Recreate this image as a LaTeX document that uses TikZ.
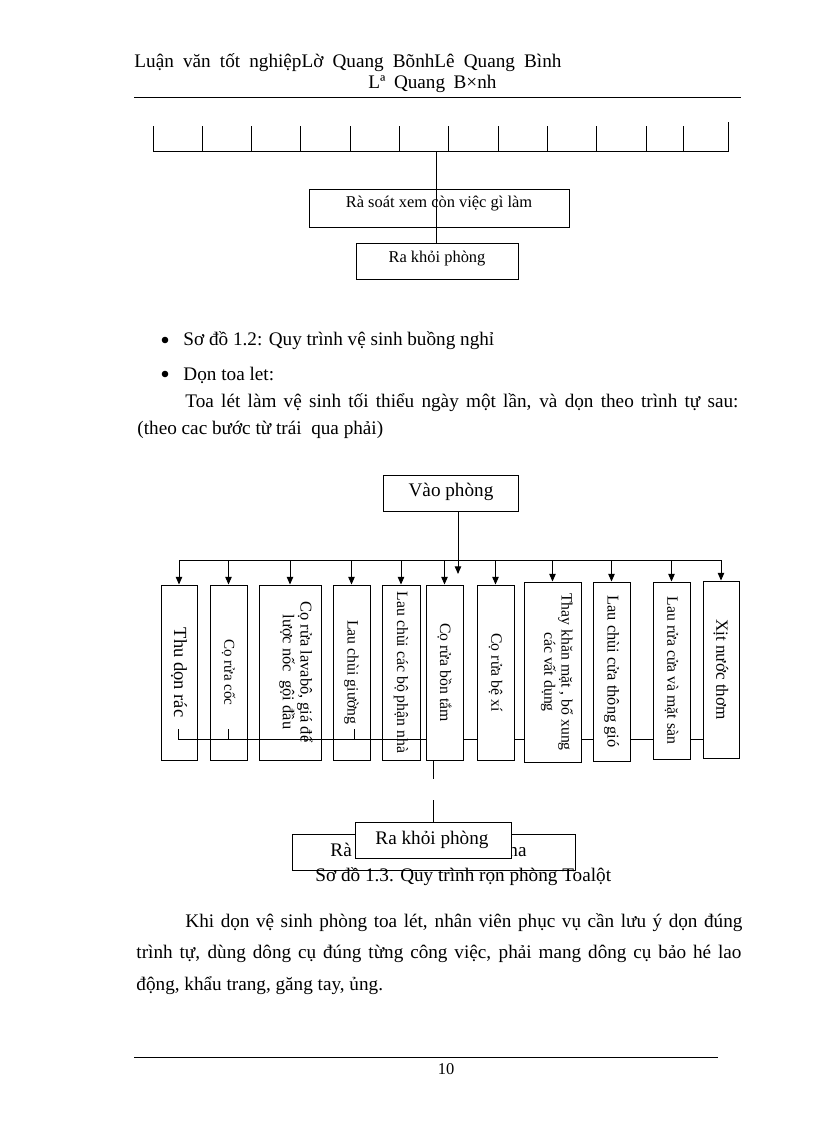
\documentclass[tikz,border=0pt]{standalone}
\usepackage{fontspec}
\setmainfont{Liberation Serif}
\usetikzlibrary{arrows.meta,fit}
\newdimen\pxu \pxu=0.7295pt
\newcommand\fs[2]{\fontsize{#1}{#2}\selectfont}
\begin{document}
\begin{tikzpicture}[x=0.7295pt,y=-0.7295pt, line width=0.7pt,
  box/.style={draw, inner sep=0pt, line width=0.7pt},
  wbox/.style={box, fill=white},
  txt/.style={inner sep=0pt, font=\fs{14}{16}},
  vt/.style={inner sep=0pt, rotate=-90, align=center},
  arr/.style={-{Triangle[length=5.5pt,width=4.6pt]}}]
\fill[white] (0,0) rectangle (816,1123);
\useasboundingbox (0,0) rectangle (816,1123);

% header
\node[txt, anchor=base west] (h1) at (134,67) {\makebox[427\pxu][s]{Luận văn tốt nghiệpLờ Quang BõnhLê Quang Bình}};
\node[txt, anchor=base west] (h2) at (368,88) {\makebox[128\pxu][s]{Lª Quang B×nh}};
\draw (134,97) -- (741,97);

% first diagram (bracket)
\coordinate (brk) at (436,151);
\draw (153,126) -- (153,151) -- (728,151) -- (728,122);
\foreach \x in {202,251,300,350,399,448,498,547,596,646,683} \draw (\x,126) -- (\x,151);
\node[box, fit={(309,189)(569,227)}] (rs1) {};
\node[txt, font=\fs{12}{14}, anchor=base] (rs1t) at (439,207) {Rà soát xem còn việc gì làm};
\node[box, fit={(356,243)(518,279)}] (rk1) {};
\node[txt, font=\fs{12}{14}, anchor=base] (rk1t) at (437,262) {Ra khỏi phòng};
\draw (brk) -- (brk |- rk1.north);

% bullets and paragraph
\fill (165,340) circle[radius=2.4pt];
\fill (165,374) circle[radius=2.4pt];
\node[txt, anchor=base west] (p1) at (183,345) {Sơ đồ 1.2: Quy trình vệ sinh buồng nghỉ};
\node[txt, anchor=base west] (p2) at (183,380) {Dọn toa let:};
\node[txt, anchor=base west] (p3) at (185,407) {\makebox[553\pxu][s]{Toa lét làm vệ sinh tối thiểu ngày một lần, và dọn theo trình tự sau:}};
\node[txt, anchor=base west] (p4) at (137,434) {(theo cac bước từ trái\ \ qua phải)};

% second diagram
\node[box, fit={(383,475)(518,511)}] (vp) {};
\node[txt, anchor=base] (vpt) at (451,496) {Vào phòng};
\coordinate (hl) at (0,560);

\node[box, fit={(161,585)(197,760)}] (b1) {};
\node[box, fit={(210,585)(247,760)}] (b2) {};
\node[box, fit={(259,585)(321,760)}] (b3) {};
\node[box, fit={(333,585)(370,760)}] (b4) {};
\node[box, fit={(382,585)(420,760)}] (b5) {};
\node[vt, font=\fs{13.5}{15}] at (b1.center) {Thu dọn rác};
\node[vt, font=\fs{11}{13}] at (b2.center) {Cọ rửa cốc};
\node[vt, font=\fs{12}{13}] at (296,672) {Cọ rửa lavabô, giá để\\lược nốc\ \ gội đầu};
\node[vt, font=\fs{11.5}{13}] at (b4.center) {Lau chùi giường};
\node[vt, font=\fs{11.5}{13}] at (b5.center) {Lau chùi các bộ phận nhà};

% bottom line with ticks
\coordinate (bl) at (178,739);
\node[box, fit={(703,581)(739,758)}] (b11) {};
\draw (bl) -- (bl -| b11.west);
\foreach \x in {178,228,354} \draw (\x,729) -- (\x,739);

\node[wbox, fit={(426,585)(463,760)}] (b6) {};
\node[wbox, fit={(477,585)(514,760)}] (b7) {};
\node[wbox, fit={(524,582)(581,762)}] (b8) {};
\node[wbox, fit={(593,582)(630,761)}] (b9) {};
\node[wbox, fit={(653,582)(690,759)}] (b10) {};
\node[vt, font=\fs{11.5}{13}] at (b6.center) {Cọ rửa bồn tắm};
\node[vt, font=\fs{11.5}{13}] at (b7.center) {Cọ rửa bệ xí};
\node[vt, font=\fs{11.5}{12.5}] at (557,672) {Thay khăn mặt , bổ xung\\các vất dụng};
\node[vt, font=\fs{12}{13}] at (b9.center) {Lau chùi cửa thông gió};
\node[vt, font=\fs{11.5}{13}] at (b10.center) {Lau rửa cửa và mặt sàn};
\node[vt, font=\fs{12.5}{14}] at (b11.center) {Xịt nước thơm};

% arrows
\draw (b1.north |- hl) -- (b11.north |- hl);
\foreach \b in {b1,b2,b3,b4,b5,b6,b7,b8,b9,b10,b11}
  \draw[arr] (\b.north |- hl) -- (\b.north);
\coordinate (vpa) at (458,511);
\coordinate (vpb) at (458,574);
\draw[arr] (vpa) -- (vpb);

% exit boxes
\coordinate (d1) at (433,760);
\coordinate (d2) at (433,779);
\coordinate (d3) at (433,800);
\node[box, fit={(292,834)(575,870)}] (rs2) {};
\node[txt, anchor=base west] (rs2a) at (330,856) {Rà};
\node[txt, anchor=base east] (rs2b) at (527,856) {ha};
\node[wbox, fit={(355,822)(511,858)}] (rk2) {};
\node[txt, anchor=base] (rk2t) at (432,844) {Ra khỏi phòng};
\draw (d1) -- (d2);
\draw (d3) -- (d3 |- rk2.north);

\node[txt, anchor=base west] (cap) at (315,881) {Sơ đồ 1.3. Quy trình rọn phòng Toalột};

% final paragraph
\node[txt, anchor=base west] (q1) at (185,927) {\makebox[557\pxu][s]{Khi dọn vệ sinh phòng toa lét, nhân viên phục vụ cần lưu ý dọn đúng}};
\node[txt, anchor=base west] (q2) at (136,958) {\makebox[605\pxu][s]{trình tự, dùng dông cụ đúng từng công việc, phải mang dông cụ bảo hé lao}};
\node[txt, anchor=base west] (q3) at (136,990) {động, khẩu trang, găng tay, ủng.};

% footer
\draw (134,1057) -- (718,1057);
\node[txt, font=\fs{12}{14}, anchor=base] (pg) at (446,1074) {10};
\end{tikzpicture}
\end{document}
